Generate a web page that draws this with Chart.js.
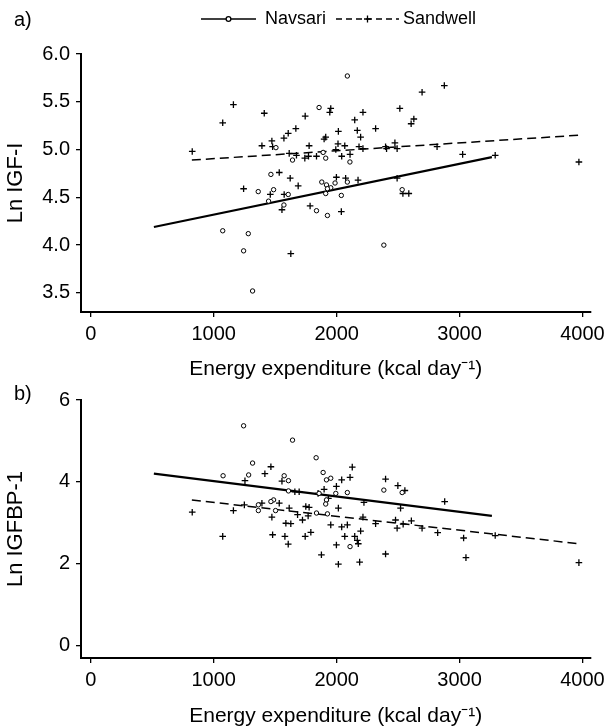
<!DOCTYPE html>
<html>
<head>
<meta charset="utf-8">
<script src="https://cdn.jsdelivr.net/npm/chart.js@4"></script>
<style>
body { margin: 0; background: #fff; width: 610px; height: 727px; position: relative; overflow: hidden; }
canvas { position: absolute; left: 0; }
#chartA { top: 0; }
#chartB { top: 380px; }
</style>
</head>
<body>
<canvas id="chartA" width="610" height="380"></canvas>
<canvas id="chartB" width="610" height="347"></canvas>
<script>
const xTicks = [0, 1000, 2000, 3000, 4000];
const yTicksA = [3.5, 4.0, 4.5, 5.0, 5.5, 6.0];
const yTicksB = [0, 2, 4, 6];

// panel a) Ln IGF-I
const navsariAX = [2087, 1857, 1506, 1641, 1911, 1890, 1465, 1362, 1487, 1446, 1606, 1571, 1879, 1917, 1952, 1925, 1911, 1987, 2038, 1836, 1925, 1073, 1281, 1243, 1316, 2087, 2108, 2533, 2384];
const navsariAY = [5.77, 5.44, 5.02, 4.89, 4.91, 4.97, 4.74, 4.56, 4.58, 4.46, 4.53, 4.42, 4.66, 4.63, 4.60, 4.59, 4.54, 4.65, 4.52, 4.36, 4.31, 4.15, 4.12, 3.94, 3.52, 4.66, 4.87, 4.58, 4.00];
const sandwellAX = [825, 1073, 1160, 1411, 1392, 1473, 1479, 1571, 1606, 1668, 1744, 1614, 1673, 1741, 1771, 1776, 1836, 1898, 1911, 1952, 1944, 2014, 2011, 2066, 1993, 2041, 1533, 1622, 1687, 1243, 1460, 1573, 1555, 1784, 2038, 1998, 2073, 1627,
    2147, 2168, 2195, 2214, 2182, 2214, 2109, 2317, 2398, 2406, 2474, 2492, 2514, 2606, 2628, 2695, 2876, 2817, 3025, 3290, 3971, 2174, 2492, 2539, 2587];
const sandwellAY = [4.98, 5.28, 5.47, 5.38, 5.04, 5.09, 5.03, 5.12, 5.17, 5.22, 5.35, 4.96, 4.94, 4.91, 4.93, 5.04, 4.93, 5.11, 5.13, 5.43, 5.39, 5.19, 5.06, 5.04, 5.00, 4.93, 4.76, 4.70, 4.62, 4.59, 4.53, 4.53, 4.37, 4.41, 4.35, 4.71, 4.70, 3.91,
    5.31, 5.20, 5.13, 5.39, 5.03, 5.01, 4.95, 5.22, 5.03, 5.01, 5.07, 5.01, 5.43, 5.27, 5.32, 5.60, 5.67, 5.03, 4.95, 4.94, 4.87, 4.68, 4.70, 4.54, 4.54];
const navsariFitAX = [513, 3263];
const navsariFitAY = [4.19, 4.92];
const sandwellFitAX = [822, 3971];
const sandwellFitAY = [4.89, 5.15];

// panel b) Ln IGFBP-1
const navsariBX = [1243, 1641, 1833, 1316, 1076, 1284, 1573, 1608, 1890, 1917, 1952, 1608, 1857, 1993, 2087, 1917, 1911, 1487, 1465, 1363, 1363, 1503, 1836, 1925, 2384, 2533, 2109];
const navsariBY = [5.37, 5.02, 4.59, 4.46, 4.15, 4.17, 4.15, 4.03, 4.23, 4.05, 4.09, 3.78, 3.72, 3.72, 3.74, 3.56, 3.46, 3.56, 3.52, 3.44, 3.30, 3.30, 3.24, 3.22, 3.80, 3.74, 2.42];
const sandwellBX = [825, 1073, 1160, 1249, 1254, 1416, 1465, 1392, 1555, 1533, 1614, 1660, 1695, 1682, 1473, 1587, 1627, 1722, 1749, 1776, 1768, 1479, 1579, 1606, 1744, 1790, 1876, 1849, 1898, 1933, 1998, 2041, 2014, 1952, 2041, 2087, 2066, 1998, 2014,
    2127, 2109, 2398, 2498, 2555, 2879, 2222, 2520, 2214, 2317, 2479, 2492, 2541, 2608, 2695, 2822, 3033, 3290, 2147, 2168, 2176, 2195, 2398, 2187, 3052, 3971];
const sandwellBY = [3.26, 2.67, 3.30, 3.44, 4.03, 4.20, 4.37, 3.48, 4.02, 3.48, 3.36, 3.76, 3.76, 3.20, 3.14, 2.99, 2.98, 3.07, 3.40, 3.38, 3.17, 2.71, 2.67, 2.48, 2.67, 2.77, 2.22, 3.72, 3.82, 3.60, 3.89, 4.05, 3.36, 2.95, 2.90, 2.95, 2.67, 2.46, 1.99,
    4.36, 4.11, 4.07, 3.91, 3.79, 3.52, 3.50, 3.36, 3.14, 2.98, 3.07, 2.87, 2.97, 3.05, 2.87, 2.76, 2.63, 2.69, 2.67, 2.57, 2.49, 2.80, 2.24, 2.04, 2.15, 2.03];
const navsariFitBX = [513, 3263];
const navsariFitBY = [4.20, 3.17];
const sandwellFitBX = [822, 3971];
const sandwellFitBY = [3.56, 2.49];

const FONT = "'Liberation Sans', Arial, Helvetica, sans-serif";
Chart.defaults.font.family = FONT;
Chart.defaults.color = "#000";

const toPoints = (xs, ys) => xs.map((x, i) => ({ x: x, y: ys[i] }));

// panel tag + legend drawn on top
const panelText = {
    id: "panelText",
    afterDraw(chart, args, opts) {
        const ctx = chart.ctx;
        ctx.save();
        ctx.fillStyle = "#000";
        ctx.strokeStyle = "#000";
        ctx.textBaseline = "middle";
        ctx.font = "20px " + FONT;
        ctx.fillText(opts.tag, 14, opts.tagY);
        if (opts.legend) {
            const y = opts.tagY - 1;
            ctx.font = "18px " + FONT;
            ctx.lineWidth = 1.3;
            ctx.beginPath();
            ctx.moveTo(201, y); ctx.lineTo(256, y);
            ctx.stroke();
            ctx.beginPath();
            ctx.arc(228.5, y, 2.4, 0, Math.PI * 2);
            ctx.fillStyle = "#fff";
            ctx.fill();
            ctx.stroke();
            ctx.fillStyle = "#000";
            ctx.fillText("Navsari", 265, y);

            ctx.setLineDash([6, 4]);
            ctx.beginPath();
            ctx.moveTo(336, y); ctx.lineTo(399, y);
            ctx.stroke();
            ctx.setLineDash([]);
            ctx.beginPath();
            ctx.moveTo(364, y); ctx.lineTo(371, y);
            ctx.moveTo(367.5, y - 3.5); ctx.lineTo(367.5, y + 3.5);
            ctx.stroke();
            ctx.fillText("Sandwell", 403, y);
        }
        ctx.restore();
    }
};

function makePanel(id, p) {
    return new Chart(document.getElementById(id), {
        type: "scatter",
        data: {
            datasets: [
                { label: "Navsari", data: toPoints(p.navX, p.navY), pointStyle: "circle", pointRadius: 2.2,
                  borderColor: "#000", backgroundColor: "#fff", borderWidth: 1 },
                { label: "Sandwell", data: toPoints(p.sanX, p.sanY), pointStyle: "cross", pointRadius: 3.3,
                  borderColor: "#000", backgroundColor: "#000", borderWidth: 1.3 },
                { type: "line", label: "Navsari fit", data: toPoints(p.navFitX, p.navFitY), borderColor: "#000",
                  borderWidth: 2.2, pointRadius: 0, fill: false },
                { type: "line", label: "Sandwell fit", data: toPoints(p.sanFitX, p.sanFitY), borderColor: "#000",
                  borderWidth: 1.5, borderDash: [9, 5], pointRadius: 0, fill: false }
            ]
        },
        options: {
            responsive: false,
            animation: false,
            devicePixelRatio: 1,
            layout: { padding: { top: p.top, right: 18, left: 0, bottom: 0 } },
            plugins: {
                legend: { display: false },
                tooltip: { enabled: false },
                panelText: { tag: p.tag, tagY: p.tagY, legend: p.legend }
            },
            scales: {
                x: {
                    type: "linear",
                    min: -80,
                    max: 4065,
                    afterBuildTicks: s => { s.ticks = xTicks.map(v => ({ value: v })); },
                    afterFit: s => { s.height = p.xHeight; },
                    grid: { drawOnChartArea: false, drawTicks: true, tickLength: 5, color: "#000", lineWidth: 1.3 },
                    border: { display: true, color: "#000", width: 2 },
                    ticks: { font: { size: 20 }, padding: 5, maxRotation: 0, callback: v => String(v) },
                    title: { display: true, text: "Energy expenditure (kcal day\u207B\u00B9)", font: { size: 21, lineHeight: 1 }, padding: 0 }
                },
                y: {
                    type: "linear",
                    min: p.yMin,
                    max: p.yMax,
                    afterBuildTicks: s => { s.ticks = p.yTicks.map(v => ({ value: v })); },
                    afterFit: s => { s.width = 81; },
                    grid: { drawOnChartArea: false, drawTicks: true, tickLength: 5, color: "#000", lineWidth: 1.3 },
                    border: { display: true, color: "#000", width: 2 },
                    ticks: { font: { size: 20 }, padding: 6, callback: v => p.fmt(v) },
                    title: { display: true, text: p.yTitle, font: { size: 22, lineHeight: 1.1 }, padding: { top: 4, bottom: 0 } }
                }
            }
        },
        plugins: [panelText]
    });
}

makePanel("chartA", {
    navX: navsariAX, navY: navsariAY, sanX: sandwellAX, sanY: sandwellAY,
    navFitX: navsariFitAX, navFitY: navsariFitAY, sanFitX: sandwellFitAX, sanFitY: sandwellFitAY,
    yTicks: yTicksA, yMin: 3.3, yMax: 6.0, fmt: v => v.toFixed(1), yTitle: "Ln IGF-I",
    top: 54, xHeight: 68, tag: "a)", tagY: 20, legend: true
});

makePanel("chartB", {
    navX: navsariBX, navY: navsariBY, sanX: sandwellBX, sanY: sandwellBY,
    navFitX: navsariFitBX, navFitY: navsariFitBY, sanFitX: sandwellFitBX, sanFitY: sandwellFitBY,
    yTicks: yTicksB, yMin: -0.3, yMax: 6, fmt: v => String(v), yTitle: "Ln IGFBP-1",
    top: 20, xHeight: 69, tag: "b)", tagY: 14, legend: false
});
</script>
</body>
</html>
